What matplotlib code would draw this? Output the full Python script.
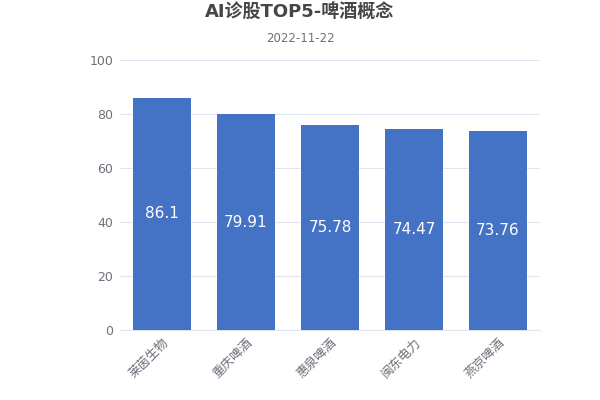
import matplotlib
matplotlib.use("Agg")
import matplotlib.pyplot as plt

categories = ["莱茵生物", "重庆啤酒", "惠泉啤酒", "闽东电力", "燕京啤酒"]
values = [86.1, 79.91, 75.78, 74.47, 73.76]
value_labels = ["86.1", "79.91", "75.78", "74.47", "73.76"]
yticks = [0, 20, 40, 60, 80, 100]

plt.rcParams['font.family'] = ['Noto Sans CJK SC', 'DejaVu Sans']

fig = plt.figure(figsize=(6, 4), dpi=100)
ax = fig.add_axes([0.2, 0.175, 0.7, 0.675])
x = list(range(len(categories)))
bars = ax.bar(x, values, width=0.69, color="#4472c4", zorder=3)
for xi, v, lab in zip(x, values, value_labels):
    ax.text(xi, v / 2, lab, ha="center", va="center", color="white", fontsize=11,
            family=['DejaVu Sans'], zorder=4)

ax.set_xlim(-0.5, len(categories) - 0.5)
ax.set_ylim(0, 100)
ax.set_yticks(yticks)
ax.set_yticklabels([str(t) for t in yticks], family=['DejaVu Sans'])
ax.grid(axis="y", color="#e0e6f1", linewidth=0.8, zorder=0)
for s in ["top", "right", "left"]:
    ax.spines[s].set_visible(False)
ax.spines["bottom"].set_color("#e0e6f1")
ax.tick_params(axis="both", length=0, colors="#6e7079", labelsize=9)
ax.tick_params(axis="y", pad=5)
ax.tick_params(axis="x", pad=4)
ax.set_xticks(x)
ax.set_xticklabels(categories, rotation=45, ha="right", rotation_mode="anchor", fontsize=9)

fig.text(0.5, 0.97, "AI诊股TOP5-啤酒概念", ha="center", va="center", fontsize=13,
         fontweight="bold", color="#464646", family=['DejaVu Sans', 'Noto Sans CJK SC'])
fig.text(0.5, 0.905, "2022-11-22", ha="center", va="center", fontsize=8.5, color="#6e7079",
         family=['DejaVu Sans'])

fig.savefig("out.png", dpi=100)
